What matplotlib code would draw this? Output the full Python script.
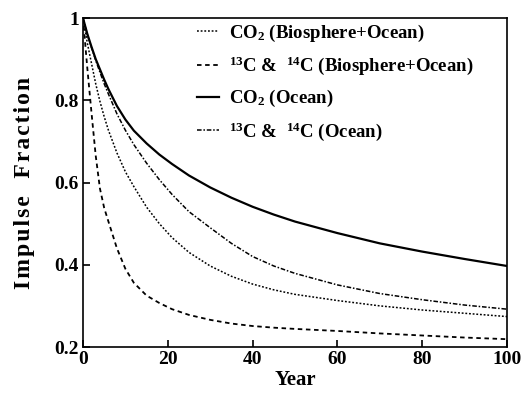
import matplotlib
matplotlib.use("Agg")
import matplotlib.pyplot as plt
from matplotlib.lines import Line2D

plt.rcParams['font.family'] = ['Liberation Serif', 'DejaVu Serif']
plt.rcParams['font.weight'] = 'bold'
plt.rcParams['mathtext.fontset'] = 'custom'
plt.rcParams['mathtext.rm'] = 'Liberation Serif:bold'
plt.rcParams['mathtext.bf'] = 'Liberation Serif:bold'
plt.rcParams['mathtext.it'] = 'Liberation Serif:bold:italic'

# Data
years = [0, 1, 2, 3, 4, 5, 6, 8, 10, 12, 15, 18, 21, 25, 30, 35, 40, 45, 50, 60, 70, 80, 90, 100]
co2_bio_ocean = [1.0, 0.94, 0.89, 0.84, 0.797, 0.76, 0.727, 0.672, 0.626, 0.59, 0.54, 0.5, 0.466, 0.43, 0.397, 0.372, 0.353, 0.339, 0.328, 0.313, 0.300, 0.290, 0.282, 0.274]
iso_bio_ocean = [1.0, 0.88, 0.77, 0.665, 0.585, 0.538, 0.505, 0.44, 0.39, 0.356, 0.325, 0.307, 0.292, 0.278, 0.266, 0.257, 0.251, 0.247, 0.244, 0.239, 0.233, 0.228, 0.223, 0.219]
co2_ocean = [1.0, 0.962, 0.93, 0.9, 0.875, 0.85, 0.827, 0.786, 0.753, 0.726, 0.695, 0.668, 0.645, 0.617, 0.588, 0.563, 0.541, 0.522, 0.505, 0.477, 0.452, 0.432, 0.414, 0.397]
iso_ocean = [1.0, 0.96, 0.928, 0.897, 0.868, 0.84, 0.815, 0.767, 0.727, 0.692, 0.647, 0.607, 0.571, 0.529, 0.49, 0.452, 0.420, 0.397, 0.379, 0.351, 0.330, 0.315, 0.302, 0.292]

labels = [r'CO$_2$ (Biosphere+Ocean)',
          r'$^{13}$C &  $^{14}$C (Biosphere+Ocean)',
          r'CO$_2$ (Ocean)',
          r'$^{13}$C &  $^{14}$C (Ocean)']
xticks = [0, 20, 40, 60, 80, 100]
yticks = [0.2, 0.4, 0.6, 0.8, 1.0]
yticklabels = ['0.2', '0.4', '0.6', '0.8', '1']

styles = [dict(ls=(0, (1.2, 1.2)), lw=1.1),
          dict(ls=(0, (2.5, 2.0)), lw=1.3),
          dict(ls='-', lw=1.6),
          dict(ls=(0, (3, 1.2, 1, 1.2)), lw=1.1)]
series = [co2_bio_ocean, iso_bio_ocean, co2_ocean, iso_ocean]

fig = plt.figure(figsize=(5.24, 3.97), dpi=100)
ax = fig.add_axes([83/524, 1-347/397, 424/524, 329/397])

for s, st in zip(series, styles):
    ax.plot(years, s, color='black', **st)

ax.set_xlim(0, 100)
ax.set_ylim(0.2, 1.0)
ax.set_xticks(xticks)
ax.set_xticklabels([str(t) for t in xticks])
ax.set_yticks(yticks)
ax.set_yticklabels(yticklabels)
ax.tick_params(direction='in', length=5, width=1.2, labelsize=14, pad=3)
for sp in ax.spines.values():
    sp.set_linewidth(1.2)

hs = '\u200a'
ylab = hs.join('Impulse') + '   ' + hs.join('Fraction')
ax.set_xlabel('Year', fontsize=15, fontweight='bold', labelpad=1)
ax.set_ylabel(ylab, fontsize=17, fontweight='bold', labelpad=14)

handles = [Line2D([], [], color='black', **st) for st in styles]
leg = ax.legend(handles, labels, loc='upper left', bbox_to_anchor=(0.268, 0.985),
                frameon=False, fontsize=13.5, borderpad=0, handlelength=1.2,
                handletextpad=0.5, labelspacing=0.58, borderaxespad=0)

fig.savefig('out.png', dpi=100)
